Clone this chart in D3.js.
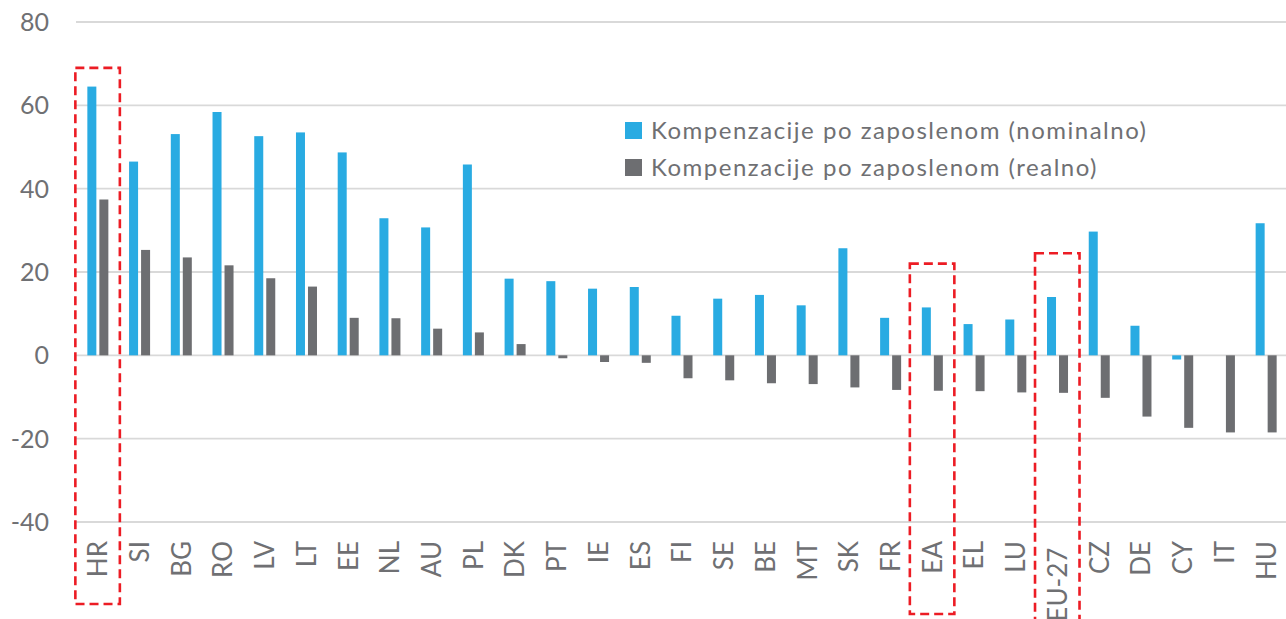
<!DOCTYPE html>
<html>
<head>
<meta charset="utf-8">
<script src="https://cdn.jsdelivr.net/npm/d3@7/dist/d3.min.js"></script>
<style>
  html, body { margin: 0; padding: 0; background: #fff; }
  svg { display: block; }
  text { font-family: Lato, "Open Sans", sans-serif; fill: #6f7073; }
</style>
</head>
<body>
<svg id="chart" width="1286" height="619"></svg>
<script>
const categories = ["HR","SI","BG","RO","LV","LT","EE","NL","AU","PL","DK","PT","IE","ES","FI","SE","BE","MT","SK","FR","EA","EL","LU","EU-27 ","CZ","DE","CY","IT","HU"];
const nominal = [64.5,46.5,53.1,58.4,52.6,53.5,48.7,32.9,30.7,45.8,18.4,17.8,16.0,16.4,9.5,13.6,14.5,12.0,25.7,9.0,11.5,7.5,8.6,14.0,29.7,7.1,-1.0,null,31.7];
const real = [37.4,25.3,23.5,21.6,18.5,16.5,9.0,8.9,6.4,5.5,2.7,-0.7,-1.6,-1.8,-5.5,-6.0,-6.7,-6.9,-7.7,-8.3,-8.5,-8.6,-8.9,-9.0,-10.2,-14.7,-17.4,-18.5,-18.5];
const seriesNames = ["Kompenzacije po zaposlenom (nominalno)", "Kompenzacije po zaposlenom (realno)"];
const seriesColors = ["#29abe2", "#6d6e71"];
const yTicks = [-40, -20, 0, 20, 40, 60, 80];
const highlighted = ["HR", "EA", "EU-27 "];
const highlightTop = [69, 22, 24.5];

const svg = d3.select("#chart");
const x = d3.scaleBand().domain(categories).range([77, 1287]).paddingInner(0.4964).paddingOuter(0.248);
const x1 = d3.scaleBand().domain([0, 1]).range([0, x.bandwidth()]).paddingInner(0.25);
const y = d3.scaleLinear().domain([-40, 80]).range([522, 22]);

// gridlines
svg.append("g").selectAll("line").data(yTicks).join("line")
  .attr("x1", 76).attr("x2", 1286)
  .attr("y1", d => y(d)).attr("y2", d => y(d))
  .attr("stroke", "#d9d9d9").attr("stroke-width", 1.8);

// y tick labels
svg.append("g").selectAll("text").data(yTicks).join("text")
  .attr("x", 49).attr("y", d => y(d)).attr("dy", "0.36em")
  .attr("text-anchor", "end").attr("font-size", 25)
  .text(d => d);

// bars
const seriesData = [nominal, real];
seriesData.forEach((vals, si) => {
  svg.append("g").selectAll("rect")
    .data(vals.map((v, i) => ({c: categories[i], v})).filter(d => d.v !== null))
    .join("rect")
    .attr("x", d => x(d.c) + x1(si))
    .attr("width", x1.bandwidth())
    .attr("y", d => y(Math.max(0, d.v)))
    .attr("height", d => Math.abs(y(d.v) - y(0)))
    .attr("fill", seriesColors[si]);
});

// category labels
svg.append("g").selectAll("text").data(categories).join("text")
  .attr("transform", d => `translate(${x(d) + x.bandwidth() / 2},541) rotate(-90)`)
  .attr("text-anchor", "end").attr("dy", "0.36em")
  .attr("font-size", 26)
  .style("white-space", "pre")
  .text(d => d);

// highlight boxes
const hl = highlighted.map((c, i) => ({c, top: highlightTop[i]}));
svg.append("g").selectAll("rect").data(hl).join("rect")
  .attr("x", d => x(d.c) + x.bandwidth() / 2 - 22.5)
  .attr("width", 44.5)
  .attr("y", d => y(d.top))
  .attr("height", (d, i) => (i === 0 ? 604 : i === 1 ? 614 : 640) - y(d.top))
  .attr("fill", "none").attr("stroke", "#ec1c24").attr("stroke-width", 2.6)
  .attr("stroke-dasharray", "9,5");

// legend
const lg = svg.append("g").attr("transform", "translate(625,122)");
seriesNames.forEach((n, i) => {
  lg.append("rect").attr("x", 0).attr("y", i * 37).attr("width", 17).attr("height", 17).attr("fill", seriesColors[i]);
  lg.append("text").attr("x", 26).attr("y", i * 37 + 17).attr("font-size", 24)
    .attr("letter-spacing", 1.5).text(n);
});
</script>
</body>
</html>
